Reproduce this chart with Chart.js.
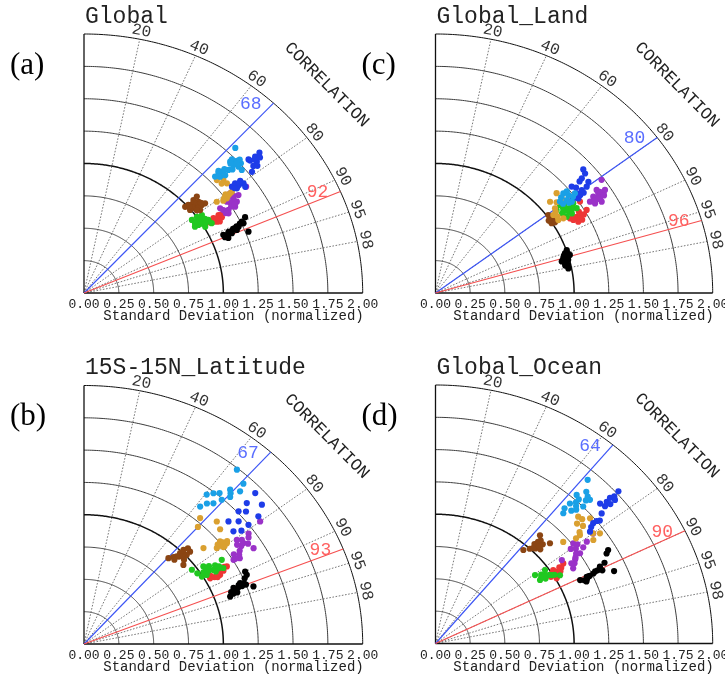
<!DOCTYPE html>
<html><head><meta charset="utf-8">
<script src="https://cdn.jsdelivr.net/npm/chart.js@4/dist/chart.umd.min.js"></script>
<style>
html,body{margin:0;padding:0;background:#fff;overflow:hidden;width:725px;height:679px;}
canvas{position:absolute;left:0;top:0;}
</style></head>
<body>
<canvas id="pa" width="725" height="679"></canvas>
<canvas id="pb" width="725" height="679"></canvas>
<canvas id="pc" width="725" height="679"></canvas>
<canvas id="pd" width="725" height="679"></canvas>
<script>
// ---------- axis / label values ----------
const stdTicks = [0, 0.25, 0.5, 0.75, 1.0, 1.25, 1.5, 1.75, 2.0];
const corrTicks = [0.2, 0.4, 0.6, 0.8, 0.9, 0.95, 0.98];
const corrTickLabels = ['20', '40', '60', '80', '90', '95', '98'];
const panelTitles = ['Global', '15S-15N_Latitude', 'Global_Land', 'Global_Ocean'];
const panelLetters = ['(a)', '(b)', '(c)', '(d)'];
const blueCorr = [0.68, 0.67, 0.80, 0.64];
const redCorr = [0.92, 0.93, 0.96, 0.90];
const seriesNames = ['lightblue', 'blue', 'goldenrod', 'purple', 'brown', 'green', 'red', 'black'];
const seriesColors = ['#1aa0e6', '#1e3ce8', '#daa030', '#9a32c8', '#8b4513', '#20c820', '#ee3636', '#000000'];

// ---------- data: [normalized std, correlation] ----------
// (a) Global
const a_lightblue = [[1.56,.696],[1.48,.717],[1.499,.732],[1.507,.747],[1.459,.735],[1.477,.751],[1.406,.737],[1.371,.729],[1.34,.72],[1.301,.723],[1.327,.736],[1.362,.744],[1.459,.719],[1.478,.766],[1.45,.725],[1.49,.74],[1.43,.745],[1.35,.715],[1.32,.73],[1.39,.725],[1.52,.735]];
const a_blue = [[1.661,.758],[1.618,.759],[1.571,.759],[1.602,.774],[1.562,.778],[1.526,.79],[1.568,.753],[1.417,.791],[1.376,.788],[1.424,.804],[1.342,.791],[1.363,.805],[1.418,.816],[1.60,.765],[1.585,.785],[1.64,.77],[1.39,.80],[1.40,.795],[1.35,.80]];
const a_goldenrod = [[1.362,.726],[1.328,.753],[1.33,.771],[1.318,.805],[1.257,.806],[1.228,.814],[1.185,.804],[1.284,.808],[1.292,.738],[1.345,.735],[1.301,.806],[1.259,.814],[1.30,.76],[1.27,.80],[1.24,.81]];
const a_purple = [[1.276,.812],[1.298,.826],[1.304,.841],[1.267,.837],[1.244,.824],[1.301,.806],[1.424,.817],[1.176,.831],[1.188,.842],[1.206,.86],[1.342,.826],[1.273,.852],[1.29,.835],[1.26,.83],[1.31,.82],[1.25,.845],[1.28,.845],[1.22,.85],[1.19,.855]];
const a_brown = [[1.012,.74],[1.064,.738],[1.082,.759],[1.085,.779],[1.031,.773],[.995,.765],[1.051,.793],[1.1,.736],[1.111,.782],[.985,.737],[1.04,.75],[1.06,.76],[1.02,.76],[1.07,.77],[1.05,.78],[1.01,.75],[1.09,.77],[1.03,.785]];
const a_green = [[.958,.808],[1.001,.809],[1.038,.815],[1.019,.841],[.975,.842],[1.056,.845],[.947,.841],[1.063,.862],[1.009,.862],[.99,.83],[1.02,.825],[1.0,.845],[.97,.825],[1.04,.835],[1.03,.85],[.96,.83]];
const a_red = [[1.094,.849],[1.137,.849],[1.101,.866],[1.149,.861],[1.055,.857],[1.12,.857],[1.12,.87],[1.08,.86],[1.16,.852]];
const a_black = [[1.296,.892],[1.26,.899],[1.222,.908],[1.183,.907],[1.14,.91],[1.096,.912],[1.114,.92],[1.157,.917],[1.272,.928],[1.2,.914],[1.265,.905],[1.13,.915],[1.15,.912],[1.17,.91],[1.21,.905],[1.24,.902],[1.12,.925],[1.10,.92]];
// (b) 15S-15N Latitude
const b_lightblue = [[1.739,.631],[1.453,.606],[1.491,.623],[1.351,.617],[1.589,.66],[1.628,.688],[1.687,.678],[1.491,.663],[1.547,.678],[1.431,.649],[1.40,.63],[1.52,.64],[1.57,.67]];
const b_blue = [[1.695,.725],[1.671,.764],[1.598,.731],[1.511,.734],[1.405,.738],[1.382,.776],[1.498,.788],[1.594,.785],[1.46,.76],[1.55,.75],[1.43,.79]];
const b_goldenrod = [[1.282,.65],[1.344,.709],[1.258,.776],[1.288,.796],[1.134,.756],[1.208,.789],[1.25,.80],[1.32,.74],[1.22,.67],[1.24,.79],[1.30,.79],[1.27,.785],[1.26,.80],[1.23,.78]];
const b_purple = [[1.458,.81],[1.425,.854],[1.361,.806],[1.255,.855],[1.385,.826],[1.58,.80],[1.33,.84],[1.41,.835],[1.28,.84],[1.44,.82],[1.30,.86],[1.36,.83],[1.39,.815],[1.34,.82],[1.31,.85],[1.27,.855]];
const b_brown = [[.985,.70],[.899,.674],[1.044,.729],[.94,.759],[.96,.71],[1.0,.72],[.93,.69],[1.02,.70],[.97,.74],[1.05,.71],[1.00,.705],[.95,.70],[1.01,.73],[.98,.72],[.92,.705]];
const b_green = [[.964,.803],[1.046,.819],[1.092,.851],[1.16,.862],[.994,.851],[1.184,.835],[1.02,.84],[1.10,.86],[1.06,.845],[.98,.83],[1.13,.855],[1.08,.83],[1.12,.84],[1.05,.835],[1.14,.85],[1.03,.855]];
const b_red = [[1.038,.872],[1.188,.863],[1.114,.877],[1.07,.875],[1.15,.87],[1.09,.88],[1.10,.87],[1.14,.865],[1.05,.865],[1.17,.86]];
const b_black = [[1.111,.944],[1.157,.927],[1.285,.909],[1.295,.939],[1.215,.922],[1.285,.90],[1.13,.935],[1.19,.93],[1.24,.925],[1.17,.94],[1.26,.915],[1.16,.935],[1.20,.925],[1.22,.93],[1.14,.94],[1.25,.93]];
// (c) Global Land
const c_lightblue = [[1.201,.768],[1.221,.785],[1.21,.813],[1.142,.786],[1.188,.797],[1.267,.794],[1.17,.775],[1.24,.80],[1.19,.81],[1.23,.77],[1.15,.80]];
const c_blue = [[1.431,.745],[1.42,.76],[1.378,.766],[1.398,.789],[1.365,.799],[1.321,.799],[1.277,.798],[1.234,.806],[1.263,.816],[1.281,.767],[1.35,.77],[1.30,.78],[1.32,.81],[1.29,.81]];
const c_goldenrod = [[1.086,.761],[1.165,.75],[1.088,.848],[1.042,.816],[1.05,.844],[1.168,.78],[1.082,.797],[1.12,.78],[1.06,.83],[1.07,.81]];
const c_purple = [[1.483,.808],[1.405,.836],[1.435,.844],[1.36,.837],[1.394,.851],[1.319,.845],[1.343,.857],[1.459,.838],[1.409,.825],[1.391,.862],[1.37,.845],[1.40,.845],[1.42,.835],[1.38,.85],[1.35,.85],[1.43,.85]];
const c_brown = [[1.008,.82],[1.013,.839],[1.012,.804],[1.04,.84],[.996,.841],[1.00,.83],[1.03,.83],[1.02,.845],[.99,.825]];
const c_green = [[1.16,.826],[1.126,.797],[1.116,.826],[1.16,.848],[1.212,.82],[1.084,.806],[1.115,.849],[1.211,.841],[1.163,.803],[1.14,.83],[1.18,.835],[1.13,.815],[1.19,.825],[1.10,.83],[1.15,.84]];
const c_red = [[1.177,.866],[1.143,.87],[1.215,.868],[1.259,.828],[1.265,.862],[1.168,.882],[1.129,.86],[1.19,.875],[1.21,.855],[1.16,.865],[1.23,.87],[1.20,.882]];
const c_black = [[.983,.95],[1.003,.944],[.96,.96],[.991,.966],[.962,.971],[.977,.981],[.943,.966],[1.013,.957],[.97,.955],[.99,.96],[.975,.965],[.98,.975],[.96,.975],[1.0,.952]];
// (d) Global Ocean
const d_lightblue = [[1.676,.655],[1.366,.675],[1.536,.663],[1.574,.708],[1.454,.667],[1.503,.709],[1.60,.68],[1.42,.69],[1.49,.68],[1.55,.70],[1.40,.665],[1.52,.68],[1.47,.69],[1.58,.695],[1.45,.70]];
const d_blue = [[1.769,.746],[1.652,.748],[1.565,.766],[1.47,.774],[1.411,.79],[1.706,.759],[1.607,.739],[1.52,.78],[1.66,.76],[1.44,.78],[1.69,.745],[1.72,.75],[1.62,.755],[1.50,.775]];
const d_goldenrod = [[1.422,.724],[1.477,.755],[1.338,.779],[1.461,.812],[1.211,.761],[1.392,.818],[1.38,.74],[1.30,.78],[1.42,.80],[1.43,.74],[1.40,.76],[1.35,.77]];
const d_purple = [[1.26,.789],[1.255,.831],[1.117,.816],[1.151,.863],[1.42,.801],[1.346,.811],[1.20,.84],[1.30,.82],[1.18,.85],[1.22,.80],[1.25,.81],[1.28,.80],[1.23,.825],[1.21,.835],[1.16,.845]];
const d_brown = [[1.064,.697],[.962,.659],[1.133,.729],[1.127,.669],[1.03,.70],[1.09,.71],[1.0,.68],[1.05,.68],[1.10,.69],[1.04,.69],[1.07,.70],[1.05,.72],[1.02,.69],[1.08,.685],[1.06,.705]];
const d_green = [[.892,.805],[.973,.812],[.90,.838],[1.042,.862],[.95,.83],[.99,.845],[.93,.82],[1.01,.85],[.92,.83],[.96,.835],[.94,.845],[.98,.84]];
const d_red = [[1.022,.831],[1.111,.83],[1.009,.866],[1.06,.85],[1.08,.84],[.98,.85],[1.0,.84],[1.04,.845],[1.03,.86],[1.07,.835]];
const d_black = [[1.153,.905],[1.261,.903],[1.417,.871],[1.405,.917],[1.327,.894],[1.207,.904],[1.18,.91],[1.23,.905],[1.30,.90],[1.37,.89],[1.44,.865],[1.20,.91],[1.22,.905],[1.19,.915],[1.28,.90],[1.33,.905]];

// ---------- panel geometry (origin & axis lengths in px) ----------
const panels = [
  {id:'pa', ox:84,    oy:293,   w:278.7, h:259,   series:[a_lightblue,a_blue,a_goldenrod,a_purple,a_brown,a_green,a_red,a_black]},
  {id:'pb', ox:84,    oy:644,   w:278.7, h:258.5, series:[b_lightblue,b_blue,b_goldenrod,b_purple,b_brown,b_green,b_red,b_black]},
  {id:'pc', ox:435.5, oy:293,   w:277.2, h:259,   series:[c_lightblue,c_blue,c_goldenrod,c_purple,c_brown,c_green,c_red,c_black]},
  {id:'pd', ox:435.5, oy:643.5, w:277.2, h:258.5, series:[d_lightblue,d_blue,d_goldenrod,d_purple,d_brown,d_green,d_red,d_black]}
];

const MONO = '"Liberation Mono", "DejaVu Sans Mono", monospace';
const SERIF = '"Liberation Serif", "DejaVu Serif", serif';

function toXY(p){ const s=p[0], c=p[1]; return {x:s*c, y:s*Math.sqrt(1-c*c)}; }

function makePlugin(idx){
  return {
    id:'taylor'+idx,
    beforeDatasetsDraw(chart){
      const ctx=chart.ctx, xs=chart.scales.x, ys=chart.scales.y;
      const P=(x,y)=>[xs.getPixelForValue(x), ys.getPixelForValue(y)];
      const O=P(0,0);
      ctx.save();
      // correlation radial lines (dotted)
      ctx.setLineDash([1.6,1.6]); ctx.strokeStyle='#555'; ctx.lineWidth=0.8;
      corrTicks.forEach(c=>{
        const s=Math.sqrt(1-c*c), E=P(2*c,2*s);
        ctx.beginPath(); ctx.moveTo(O[0],O[1]); ctx.lineTo(E[0],E[1]); ctx.stroke();
      });
      ctx.setLineDash([]);
      // std arcs
      stdTicks.slice(1).forEach(r=>{
        ctx.beginPath();
        for(let i=0;i<=180;i++){
          const t=i/180*Math.PI/2, Q=P(r*Math.cos(t), r*Math.sin(t));
          if(i===0) ctx.moveTo(Q[0],Q[1]); else ctx.lineTo(Q[0],Q[1]);
        }
        ctx.strokeStyle = (r===1 || r===2) ? '#111' : '#3c3c3c';
        ctx.lineWidth = r===1 ? 1.5 : 1;
        ctx.stroke();
      });
      // axes
      ctx.strokeStyle='#111'; ctx.lineWidth=1.3;
      const X2=P(2,0), Y2=P(0,2);
      ctx.beginPath(); ctx.moveTo(O[0],O[1]); ctx.lineTo(X2[0],X2[1]); ctx.stroke();
      ctx.beginPath(); ctx.moveTo(O[0],O[1]); ctx.lineTo(Y2[0],Y2[1]); ctx.stroke();
      // blue and red reference lines
      [[blueCorr[idx],'#3c55f5'],[redCorr[idx],'#f55050']].forEach(([c,col])=>{
        const s=Math.sqrt(1-c*c), E=P(2*c,2*s);
        ctx.strokeStyle=col; ctx.lineWidth=1.2;
        ctx.beginPath(); ctx.moveTo(O[0],O[1]); ctx.lineTo(E[0],E[1]); ctx.stroke();
      });
      ctx.restore();
    },
    afterDatasetsDraw(chart){
      const ctx=chart.ctx, xs=chart.scales.x, ys=chart.scales.y;
      const P=(x,y)=>[xs.getPixelForValue(x), ys.getPixelForValue(y)];
      const O=P(0,0);
      const sx=xs.getPixelForValue(1)-xs.getPixelForValue(0);
      const sy=ys.getPixelForValue(0)-ys.getPixelForValue(1);
      ctx.save();
      // std tick labels
      ctx.fillStyle='#222'; ctx.font='13px '+MONO; ctx.textAlign='center'; ctx.textBaseline='middle';
      stdTicks.forEach(v=>{ ctx.fillText(v.toFixed(2), xs.getPixelForValue(v), O[1]+12); });
      // axis title
      ctx.font='14px '+MONO; ctx.textAlign='right';
      ctx.fillText('Standard Deviation (normalized)', xs.getPixelForValue(2)+1, O[1]+23.5);
      // correlation tick labels
      ctx.font='16px '+MONO; ctx.textAlign='center'; ctx.textBaseline='middle'; ctx.fillStyle='#333';
      corrTicks.forEach((c,i)=>{
        const t=Math.acos(c), r=2.065, Q=P(r*c, r*Math.sin(t));
        const rot=Math.atan2(sy*Math.cos(t), sx*Math.sin(t));
        ctx.save(); ctx.translate(Q[0],Q[1]); ctx.rotate(rot); ctx.fillText(corrTickLabels[i],0,0); ctx.restore();
      });
      // CORRELATION label
      {
        const t=42.7*Math.PI/180, r=2.37, Q=P(r*Math.cos(t), r*Math.sin(t));
        const rot=Math.atan2(sy*Math.cos(t), sx*Math.sin(t));
        ctx.font='17px '+MONO; ctx.fillStyle='#222';
        ctx.save(); ctx.translate(Q[0],Q[1]); ctx.rotate(rot); ctx.fillText('CORRELATION',0,0); ctx.restore();
      }
      // blue / red value labels
      ctx.font='18px '+MONO; ctx.textAlign='right'; ctx.textBaseline='middle';
      [[blueCorr[idx],'#5a6eff'],[redCorr[idx],'#ff6060']].forEach(([c,col])=>{
        const s=Math.sqrt(1-c*c), E=P(2*c,2*s);
        ctx.fillStyle=col; ctx.fillText(String(Math.round(c*100)), E[0]-12, E[1]+1);
      });
      // title
      ctx.fillStyle='#222'; ctx.font='23px '+MONO; ctx.textAlign='left'; ctx.textBaseline='alphabetic';
      ctx.fillText(panelTitles[idx], O[0]+1, O[1]-270);
      // panel letter
      ctx.fillStyle='#000'; ctx.font='31px '+SERIF;
      ctx.fillText(panelLetters[idx], O[0]-74, O[1]-219);
      ctx.restore();
    }
  };
}

panels.forEach((pn, idx)=>{
  const cv=document.getElementById(pn.id);
  new Chart(cv, {
    type:'scatter',
    data:{
      datasets: pn.series.map((arr,k)=>({
        label: seriesNames[k],
        data: arr.map(toXY),
        backgroundColor: seriesColors[k],
        borderWidth: 0,
        pointRadius: 3.1,
        pointHoverRadius: 3.1
      }))
    },
    options:{
      responsive:false, animation:false, events:[],
      layout:{padding:{left:pn.ox, top:pn.oy-pn.h, right:725-(pn.ox+pn.w), bottom:679-pn.oy}},
      plugins:{legend:{display:false}, tooltip:{enabled:false}},
      scales:{
        x:{type:'linear', min:0, max:2, display:false},
        y:{type:'linear', min:0, max:2, display:false}
      }
    },
    plugins:[makePlugin(idx)]
  });
});
</script>
</body></html>
